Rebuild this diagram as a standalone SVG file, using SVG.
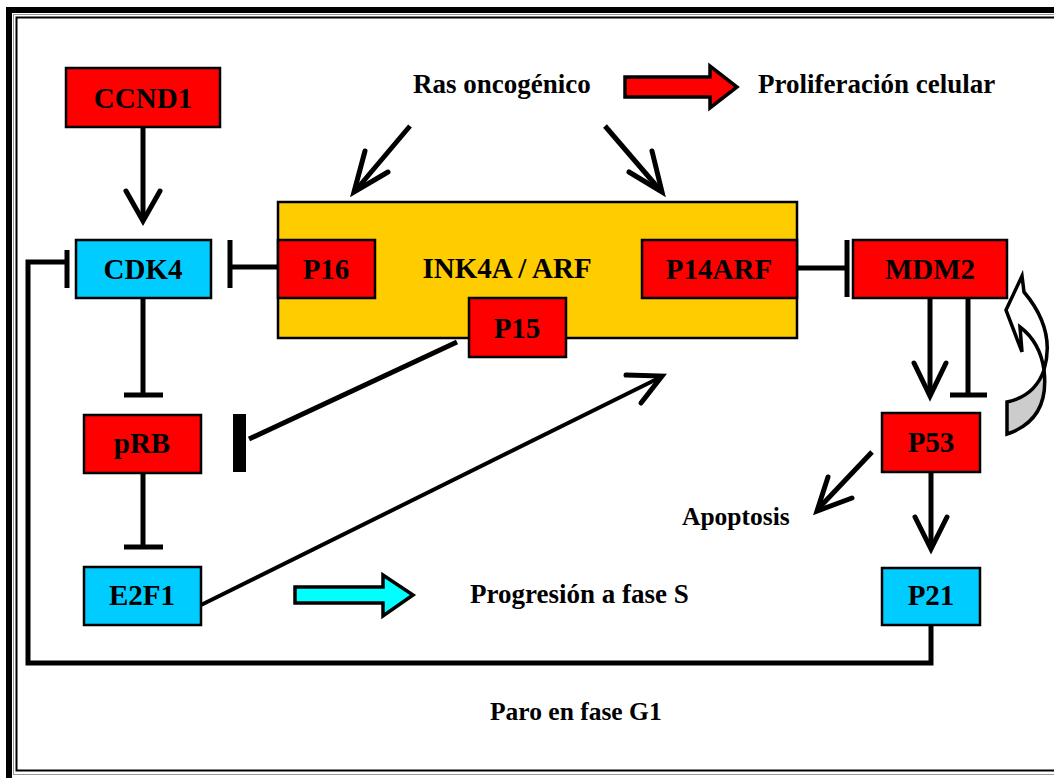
<svg xmlns="http://www.w3.org/2000/svg" width="1054" height="778" viewBox="0 0 1054 778">
  <style>
    .box { stroke: #000; stroke-width: 2.5; }
    .red { fill: #ff0000; }
    .blue { fill: #00ccff; }
    .lbl { font-family: "Liberation Serif", "Times New Roman", serif; font-weight: bold; font-size: 29px; text-anchor: middle; fill: #000; }
    .txt { font-family: "Liberation Serif", "Times New Roman", serif; font-weight: bold; font-size: 27px; fill: #000; }
    .ln { fill: none; stroke: #000; stroke-width: 5; stroke-linecap: butt; }
    .head { fill: none; stroke: #000; stroke-width: 5; stroke-linecap: round; stroke-linejoin: miter; }
    .bar { stroke: #000; stroke-width: 5; }
  </style>

  <!-- page frame -->
  <rect x="0" y="0" width="1054" height="778" fill="#fff"/>
  <rect x="9" y="10" width="1060" height="772" fill="none" stroke="#000" stroke-width="6"/>
  <rect x="13.5" y="14.5" width="1050" height="760" fill="none" stroke="#999" stroke-width="1"/>
  <rect x="16.5" y="17.5" width="1050" height="753" fill="none" stroke="#000" stroke-width="2"/>

  <!-- connectors -->
  <g id="connectors">
    <!-- CCND1 -> CDK4 -->
    <line class="ln" x1="143" y1="127" x2="143" y2="221"/>
    <polyline class="head" points="126,191 143,221 160,191"/>
    <!-- P16 -| CDK4 -->
    <line class="ln" x1="278" y1="267" x2="230" y2="267"/>
    <line class="bar" x1="230" y1="240" x2="230" y2="288"/>
    <!-- P21 loop -| CDK4 -->
    <polyline class="ln" points="931,625 931,663 28,663 28,262 67,262"/>
    <line class="bar" x1="67" y1="250" x2="67" y2="288"/>
    <!-- CDK4 -| pRB -->
    <line class="ln" x1="143" y1="298" x2="143" y2="395"/>
    <line class="bar" x1="124" y1="395" x2="163" y2="395"/>
    <!-- pRB -| E2F1 -->
    <line class="ln" x1="143" y1="473" x2="143" y2="547"/>
    <line class="bar" x1="124" y1="547" x2="163" y2="547"/>
    <!-- P15 -| pRB -->
    <line class="ln" x1="457" y1="342" x2="249" y2="439"/>
    <rect x="233" y="414" width="13" height="58" fill="#000"/>
    <!-- E2F1 -> INK4A/ARF -->
    <line stroke="#000" stroke-width="4" x1="201" y1="605" x2="661" y2="377"/>
    <polyline class="head" stroke-width="4.5" points="626,375 662,376 641,403"/>
    <!-- Ras -> INK4A/ARF (left and right) -->
    <line class="ln" x1="410" y1="126" x2="356" y2="190"/>
    <polyline class="head" points="365,151 354,192 388,172"/>
    <line class="ln" x1="605" y1="126" x2="660" y2="190"/>
    <polyline class="head" points="652,151 662,192 629,172"/>
    <!-- P14ARF -| MDM2 -->
    <line class="ln" x1="797" y1="268" x2="847" y2="268"/>
    <line class="bar" x1="847" y1="240" x2="847" y2="297"/>
    <!-- MDM2 -> P53 -->
    <line class="ln" x1="930" y1="298" x2="930" y2="395"/>
    <polyline class="head" points="914,363 930,396 946,363"/>
    <!-- MDM2 -| P53 -->
    <line class="ln" x1="968" y1="298" x2="968" y2="395"/>
    <line class="bar" x1="950" y1="395" x2="987" y2="395"/>
    <!-- P53 -> Apoptosis -->
    <line class="ln" x1="872" y1="452" x2="818" y2="509"/>
    <polyline class="head" points="828,477 817,511 852,498"/>
    <!-- P53 -> P21 -->
    <line class="ln" x1="931" y1="472" x2="931" y2="548"/>
    <polyline class="head" points="915,517 931,549 947,517"/>
  </g>

  <!-- INK4A / ARF locus -->
  <g id="ink4a-arf">
    <rect class="box" x="278" y="202" width="519" height="136" fill="#ffcc00"/>
    <text class="lbl" x="507" y="278">INK4A / ARF</text>
  </g>

  <g id="ccnd1">
    <rect class="box red" x="66" y="68" width="154" height="59"/>
    <text class="lbl" x="143" y="108">CCND1</text>
  </g>
  <g id="cdk4">
    <rect class="box blue" x="76" y="240" width="135" height="58"/>
    <text class="lbl" x="143" y="279">CDK4</text>
  </g>
  <g id="p16">
    <rect class="box red" x="278" y="240" width="97" height="58"/>
    <text class="lbl" x="326" y="279">P16</text>
  </g>
  <g id="p14arf">
    <rect class="box red" x="642" y="240" width="155" height="58"/>
    <text class="lbl" x="719" y="279">P14ARF</text>
  </g>
  <g id="p15">
    <rect class="box red" x="469" y="298" width="97" height="59"/>
    <text class="lbl" x="517" y="338">P15</text>
  </g>
  <g id="mdm2">
    <rect class="box red" x="853" y="240" width="154" height="58"/>
    <text class="lbl" x="930" y="279">MDM2</text>
  </g>
  <g id="prb">
    <rect class="box red" x="84" y="415" width="117" height="58"/>
    <text class="lbl" x="142" y="453">pRB</text>
  </g>
  <g id="e2f1">
    <rect class="box blue" x="84" y="567" width="117" height="58"/>
    <text class="lbl" x="142" y="605">E2F1</text>
  </g>
  <g id="p53">
    <rect class="box red" x="882" y="413" width="98" height="59"/>
    <text class="lbl" x="931" y="452">P53</text>
  </g>
  <g id="p21">
    <rect class="box blue" x="882" y="568" width="98" height="57"/>
    <text class="lbl" x="931" y="605">P21</text>
  </g>

  <!-- MDM2 / P53 feedback curved arrow -->
  <g id="feedback-arrow" stroke="#000" stroke-width="3.5" stroke-linejoin="miter">
    <path d="M1007,402 Q1035,396 1044,370 Q1050,420 1007,434 Z" fill="#cccccc"/>
    <path d="M1022,276 L1006,310 L1022,352 L1020,327 Q1040,342 1044,370 Q1056,330 1024,292 Z" fill="#fff"/>
  </g>

  <!-- block arrows -->
  <g id="prolif-arrow">
    <path d="M625,77 H710 V66 L737,87 L710,108 V97 H625 Z" fill="#ff0000" stroke="#000" stroke-width="3.5"/>
  </g>
  <g id="sphase-arrow">
    <path d="M295,587 H383 V575 L413,595 L383,616 V603 H295 Z" fill="#00ffff" stroke="#000" stroke-width="3.5"/>
  </g>

  <!-- free labels -->
  <g id="labels">
    <text class="txt" x="413" y="93">Ras oncogénico</text>
    <text class="txt" x="758" y="93">Proliferación celular</text>
    <text class="txt" x="682" y="525" style="font-size:25.5px">Apoptosis</text>
    <text class="txt" x="470" y="603">Progresión a fase S</text>
    <text class="txt" x="490" y="720" style="font-size:25.5px">Paro en fase G1</text>
  </g>
</svg>
